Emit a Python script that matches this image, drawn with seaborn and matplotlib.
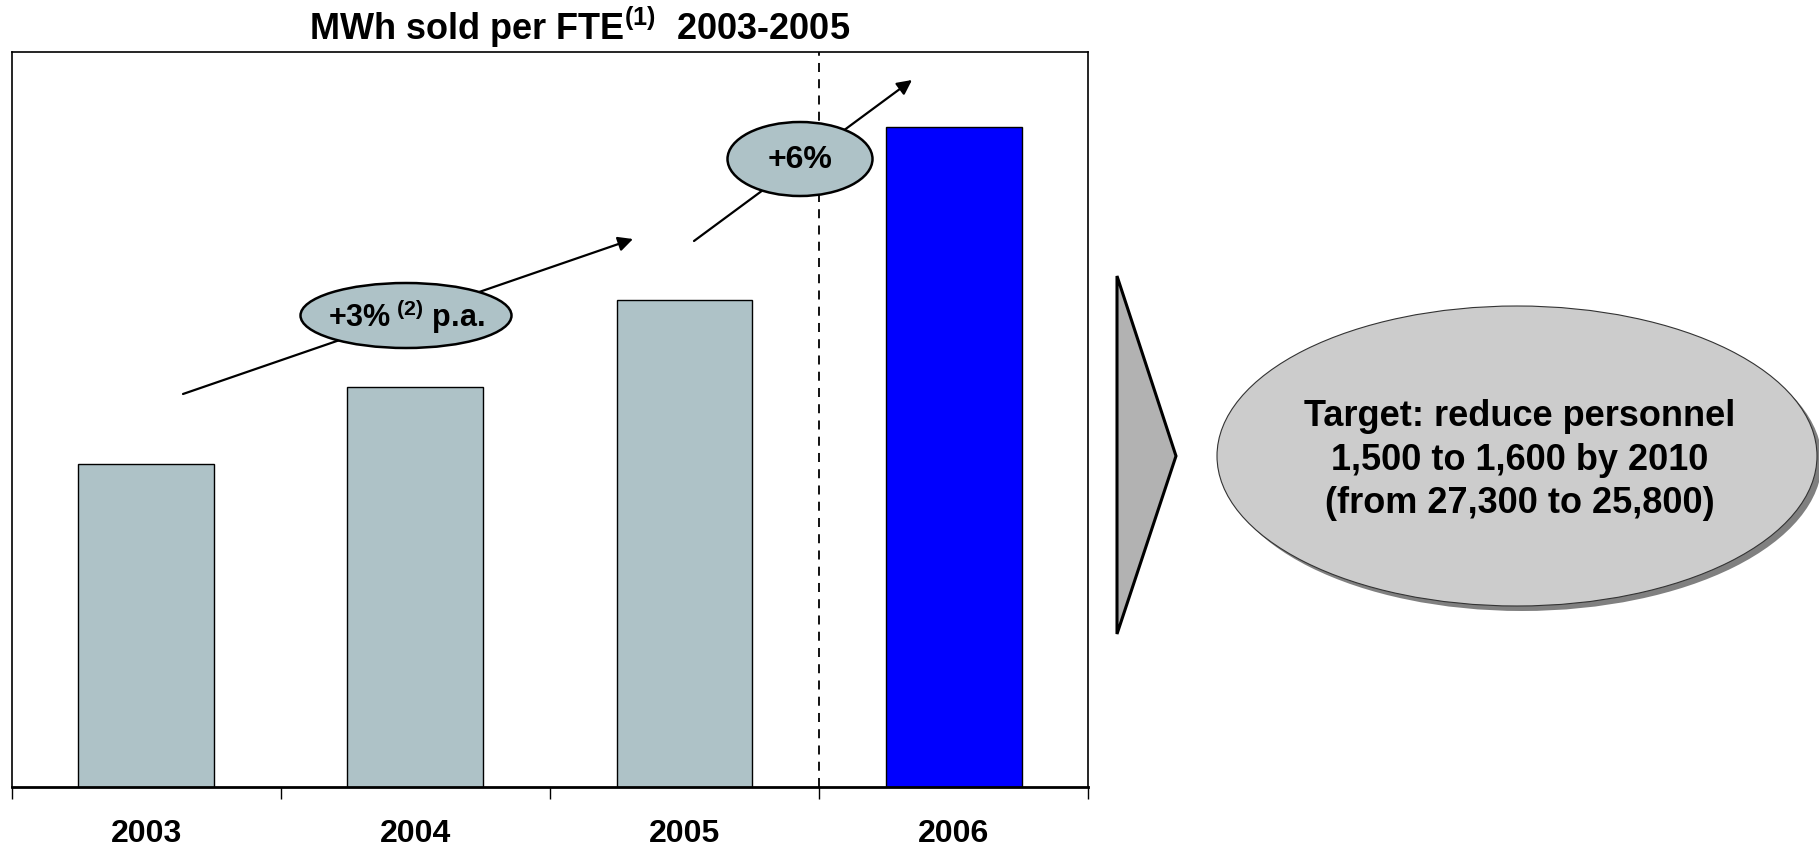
import matplotlib
matplotlib.use("Agg")
import matplotlib.pyplot as plt
from matplotlib.patches import Ellipse, Polygon
import seaborn as sns
import pandas as pd

# MWh sold per FTE, indexed to 2005 = 100
years = ["2003", "2004", "2005", "2006"]
mwh_per_fte_index = [94.3, 97.0, 100.0, 106.0]
bar_colors = ["#AEC2C7", "#AEC2C7", "#AEC2C7", "#0000FF"]

title_text = "MWh sold per FTE$^{(1)}$  2003-2005"
growth_hist_label = "+3%$^{\\ (2)}$ p.a."
growth_2006_label = "+6%"
target_lines = ["Target: reduce personnel", "1,500 to 1,600 by 2010", "(from 27,300 to 25,800)"]

sns.set_style("white")
plt.rcParams["font.family"] = ["Liberation Sans", "DejaVu Sans"]
plt.rcParams["font.weight"] = "bold"
plt.rcParams["text.color"] = "black"
plt.rcParams["xtick.color"] = "black"
plt.rcParams["axes.labelcolor"] = "black"
plt.rcParams["mathtext.fontset"] = "custom"
plt.rcParams["mathtext.rm"] = "Liberation Sans:bold"
plt.rcParams["mathtext.it"] = "Liberation Sans:bold"
plt.rcParams["mathtext.bf"] = "Liberation Sans:bold"

W, H = 1819, 850
fig = plt.figure(figsize=(W / 100, H / 100), dpi=100)
fig.patch.set_facecolor("white")

ax = fig.add_axes([11.6 / W, 1 - 786.5 / H, (1088.2 - 11.6) / W, (786.5 - 52.2) / H])
df = pd.DataFrame({"year": years, "value": mwh_per_fte_index})
sns.barplot(data=df, x="year", y="value", hue="year", palette=bar_colors,
            legend=False, width=0.505, edgecolor="black", linewidth=1.0,
            saturation=1, ax=ax)
ax.set_xlim(-0.5, 3.5)
ax.set_ylim(83.13, 108.6)
ax.set_xlabel("")
ax.set_ylabel("")
ax.set_yticks([])
ax.set_xticks(range(len(years)))
ax.set_xticklabels(years, fontsize=23, fontweight="bold", color="black")
ax.tick_params(axis="x", which="major", bottom=True, length=0, pad=23.5)
ax.set_xticks([i - 0.5 for i in range(len(years) + 1)], minor=True)
ax.tick_params(axis="x", which="minor", bottom=True, length=8.5, width=1.0,
               direction="out", color="black")
for side in ["left", "right", "top"]:
    ax.spines[side].set_visible(True)
    ax.spines[side].set_color("black")
    ax.spines[side].set_linewidth(1.2)
ax.spines["bottom"].set_color("black")
ax.spines["bottom"].set_linewidth(2.0)

# forecast divider between actuals and 2006
ax.axvline(2.5, color="black", linestyle=(0, (5, 4)), linewidth=1.3, zorder=1)

# overlay in pixel coordinates for the callouts
ov = fig.add_axes([0, 0, 1, 1], zorder=5)
ov.set_xlim(0, W)
ov.set_ylim(H, 0)
ov.axis("off")
ov.patch.set_alpha(0)

ov.text(579.5, 40, title_text, ha="center", va="baseline", fontsize=26, fontweight="bold")

arrow_kw = dict(arrowstyle="-|>", color="black", lw=1.6, mutation_scale=22, shrinkA=0, shrinkB=0)
ov.annotate("", xy=(633, 239), xytext=(183, 394), arrowprops=arrow_kw, zorder=2)
ov.annotate("", xy=(912, 80), xytext=(694, 241), arrowprops=arrow_kw, zorder=2)

ov.add_patch(Ellipse((406, 315.5), 211, 65, facecolor="#AEC2C7", edgecolor="black", lw=1.8, zorder=3))
ov.text(406, 316, growth_hist_label, ha="center", va="center", fontsize=22, fontweight="bold", zorder=4)
ov.add_patch(Ellipse((800, 159), 145, 74, facecolor="#AEC2C7", edgecolor="black", lw=1.8, zorder=3))
ov.text(800, 160, growth_2006_label, ha="center", va="center", fontsize=23, fontweight="bold", zorder=4)

# chevron pointing to the target
ov.add_patch(Polygon([(1117, 276), (1176, 456), (1117, 634)], closed=True,
                     facecolor="#B2B2B2", edgecolor="black", lw=2.2, zorder=3))

# target bubble with drop shadow
ov.add_patch(Ellipse((1522, 461), 600, 300, facecolor="#808080", edgecolor="none", zorder=2))
ov.add_patch(Ellipse((1517, 456), 600, 300, facecolor="#CCCCCC", edgecolor="#333333", lw=0.8, zorder=3))
for i, line in enumerate(target_lines):
    ov.text(1520, 426 + i * 43.5, line, ha="center", va="baseline",
            fontsize=26, fontweight="bold", zorder=4)

fig.savefig("out.png", dpi=100)
